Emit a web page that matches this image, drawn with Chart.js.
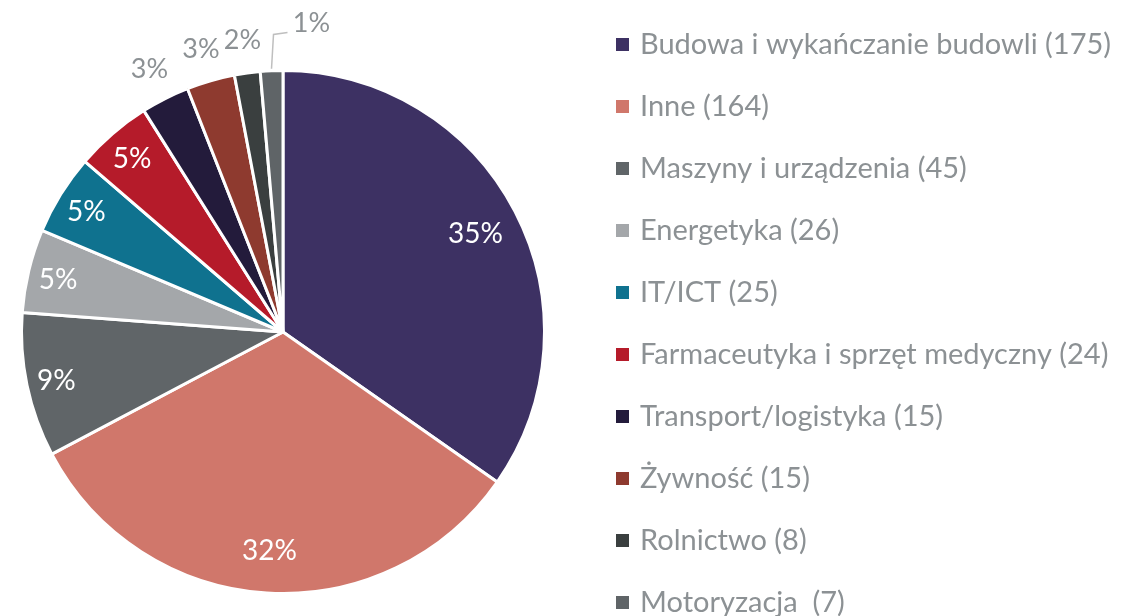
<!DOCTYPE html>
<html>
<head>
<meta charset="utf-8">
<script src="https://cdn.jsdelivr.net/npm/chart.js@4.4.1/dist/chart.umd.min.js"></script>
<style>
  html, body { margin: 0; padding: 0; background: #fff; }
  #wrap { position: relative; width: 1125px; height: 616px; }
</style>
</head>
<body>
<div id="wrap"><canvas id="sectorPie" width="1125" height="616"></canvas></div>
<script>
// data
var sectors = [
  'Budowa i wykańczanie budowli (175)',
  'Inne (164)',
  'Maszyny i urządzenia (45)',
  'Energetyka (26)',
  'IT/ICT (25)',
  'Farmaceutyka i sprzęt medyczny (24)',
  'Transport/logistyka (15)',
  'Żywność (15)',
  'Rolnictwo (8)',
  'Motoryzacja  (7)'
];
var counts = [175, 164, 45, 26, 25, 24, 15, 15, 8, 7];
var shareLabels = ['35%', '32%', '9%', '5%', '5%', '5%', '3%', '3%', '2%', '1%'];
var sliceColors = [
  '#3d3163', '#d0776b', '#606568', '#a4a7aa', '#0f728f',
  '#b51b2a', '#231b3b', '#8e3a2f', '#3a3f3f', '#5f6467'
];

var FONT = 'Lato, "Open Sans", sans-serif';
var GREY = '#8c9194';

// percent labels: inside for big slices, outside for small ones
var sliceLabels = {
  id: 'sliceLabels',
  afterDatasetsDraw: function (chart) {
    var ctx = chart.ctx;
    var arcs = chart.getDatasetMeta(0).data;
    ctx.save();
    ctx.textAlign = 'center';
    ctx.textBaseline = 'middle';
    arcs.forEach(function (arc, i) {
      var mid = (arc.startAngle + arc.endAngle) / 2;
      var inside = counts[i] > 20;
      var d;
      if (counts[i] > 100) d = arc.outerRadius * 0.83;
      else if (inside) d = arc.outerRadius * 0.885;
      else d = arc.outerRadius + 35;
      var x = arc.x + Math.cos(mid) * d;
      var y = arc.y + Math.sin(mid) * d + 2;
      ctx.font = (inside ? '28px ' : '27px ') + FONT;
      if (i == arcs.length - 1) {
        // tiny slice gets a leader line
        var ex = arc.x + Math.cos(mid) * (arc.outerRadius + 2);
        var ey = arc.y + Math.sin(mid) * (arc.outerRadius + 2);
        ctx.strokeStyle = '#bfbfbf';
        ctx.lineWidth = 1.5;
        ctx.beginPath();
        ctx.moveTo(ex, ey);
        ctx.lineTo(ex + 2, arc.y - arc.outerRadius - 36);
        ctx.lineTo(ex + 16, arc.y - arc.outerRadius - 38);
        ctx.stroke();
        x = ex + 40;
        y = arc.y - arc.outerRadius - 47;
      }
      ctx.fillStyle = inside ? '#ffffff' : GREY;
      ctx.fillText(shareLabels[i], x, y);
    });
    ctx.restore();
  }
};

// legend on the right, drawn by hand
var sideLegend = {
  id: 'sideLegend',
  afterDraw: function (chart) {
    var ctx = chart.ctx;
    ctx.save();
    ctx.font = '29px ' + FONT;
    ctx.textBaseline = 'middle';
    ctx.textAlign = 'left';
    sectors.forEach(function (name, i) {
      var y = 44 + i * 62;
      ctx.fillStyle = sliceColors[i];
      ctx.fillRect(616, y - 6, 13, 13);
      ctx.fillStyle = GREY;
      ctx.fillText(name, 640, y + 1);
    });
    ctx.restore();
  }
};

var pieCanvas = document.getElementById('sectorPie');
var pieConfig = {
  type: 'pie',
  data: {
    labels: sectors,
    datasets: [{
      data: counts,
      backgroundColor: sliceColors,
      borderColor: '#ffffff',
      borderWidth: 3
    }]
  },
  options: {
    responsive: false,
    animation: false,
    layout: {
      padding: { left: 20, top: 69, right: 579, bottom: 21 }
    },
    plugins: {
      legend: { display: false },
      tooltip: { enabled: false }
    }
  },
  plugins: [sliceLabels, sideLegend]
};
var pieChart = new Chart(pieCanvas, pieConfig);
</script>
</body>
</html>
